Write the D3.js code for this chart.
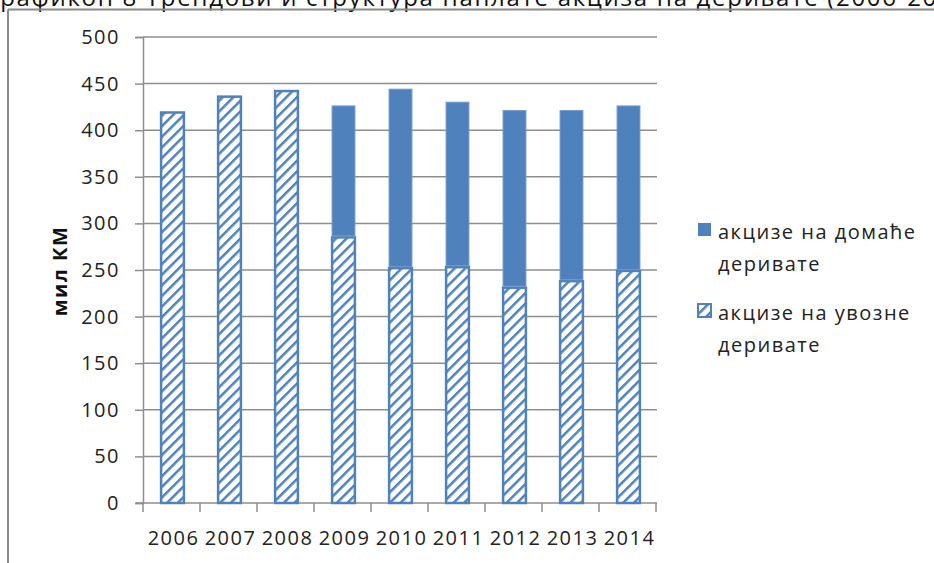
<!DOCTYPE html>
<html>
<head>
<meta charset="utf-8">
<script src="https://cdn.jsdelivr.net/npm/d3@7"></script>
<style>
  body { margin: 0; background: #fff; }
  svg { display: block; font-family: "Open Sans", sans-serif; }
</style>
</head>
<body>
<svg id="chart" width="934" height="563"></svg>
<script>
// values (mil KM)
var years = ["2006", "2007", "2008", "2009", "2010", "2011", "2012", "2013", "2014"];
var uvozne = [419, 436, 442, 285, 252, 253, 231, 238, 249];
var domace = [0, 0, 0, 141, 192, 177, 190, 183, 177];
var yTicks = [0, 50, 100, 150, 200, 250, 300, 350, 400, 450, 500];
var legendLabels = [["акцизе на домаће", "деривате"], ["акцизе на увозне", "деривате"]];

var blue = "#4F81BD";
var grid = "#8e8e8e";

var svg = d3.select("#chart");

// pattern for the imported part
var defs = svg.append("defs");
var pat = defs.append("pattern")
    .attr("id", "hatch")
    .attr("patternUnits", "userSpaceOnUse")
    .attr("width", 7.5)
    .attr("height", 7.5)
    .attr("patternTransform", "rotate(45)");
pat.append("rect").attr("width", 7.5).attr("height", 7.5).attr("fill", "#fff");
pat.append("line")
    .attr("x1", 0).attr("y1", 0).attr("x2", 0).attr("y2", 7.5)
    .attr("stroke", blue).attr("stroke-width", 5);

// title line, cut off at the top like in the source
svg.append("text")
    .attr("x", -14)
    .attr("y", 6)
    .attr("font-size", 24)
    .attr("letter-spacing", 1.7)
    .attr("fill", "#111")
    .text("Графикон 8 Трендови и структура наплате акциза на деривате (2006-2014)");

// frame
svg.append("line").attr("x1", 8).attr("y1", 9.5).attr("x2", 934).attr("y2", 9.5)
    .attr("stroke", "#8a8a8a").attr("stroke-width", 2);
svg.append("line").attr("x1", 8).attr("y1", 9.5).attr("x2", 8).attr("y2", 563)
    .attr("stroke", "#8a8a8a").attr("stroke-width", 2);

var x = d3.scaleBand().domain(years).range([143, 656]).padding(0);
var y = d3.scaleLinear().domain([0, 500]).range([503, 37]);

// gridlines
svg.append("g").selectAll("line")
    .data(yTicks.slice(1))
    .enter()
    .append("line")
    .attr("x1", 143)
    .attr("x2", 657)
    .attr("y1", function(d) { return y(d); })
    .attr("y2", function(d) { return y(d); })
    .attr("stroke", grid)
    .attr("stroke-width", 1.5);

// y axis
var yAxis = svg.append("g")
    .attr("transform", "translate(143,0)")
    .call(d3.axisLeft(y).tickValues(yTicks).tickSize(8).tickPadding(15));
yAxis.select(".domain").attr("stroke", grid).attr("stroke-width", 1.5);
yAxis.selectAll(".tick line").attr("stroke", grid).attr("stroke-width", 1.5);
yAxis.selectAll("text")
    .attr("font-family", "Open Sans")
    .attr("font-size", 20)
    .attr("letter-spacing", 1.5)
    .attr("fill", "#222");

// x axis, ticks sit between the categories
svg.append("line")
    .attr("x1", 136).attr("x2", 657)
    .attr("y1", y(0)).attr("y2", y(0))
    .attr("stroke", grid).attr("stroke-width", 1.5);
var bounds = years.map(function(d) { return x(d); }).concat([x.range()[1]]);
svg.append("g").selectAll("line")
    .data(bounds)
    .enter()
    .append("line")
    .attr("x1", function(d) { return d; })
    .attr("x2", function(d) { return d; })
    .attr("y1", y(0))
    .attr("y2", y(0) + 9)
    .attr("stroke", grid)
    .attr("stroke-width", 1.5);
svg.append("g").selectAll("text")
    .data(years)
    .enter()
    .append("text")
    .attr("x", function(d) { return x(d) + x.bandwidth() / 2 + 2; })
    .attr("y", 545)
    .attr("text-anchor", "middle")
    .attr("font-size", 20)
    .attr("letter-spacing", 1.5)
    .attr("fill", "#222")
    .text(function(d) { return d; });

// y title
svg.append("text")
    .attr("transform", "translate(67,271) rotate(-90)")
    .attr("text-anchor", "middle")
    .attr("font-size", 20)
    .attr("letter-spacing", 1.5)
    .attr("font-weight", "bold")
    .attr("fill", "#111")
    .text("мил КМ");

// stacked bars
var rows = years.map(function(d, i) { return { year: d, uvozne: uvozne[i], domace: domace[i] }; });
var stack = d3.stack().keys(["uvozne", "domace"])(rows);
var barW = x.bandwidth() * 0.4;

svg.append("g").selectAll("rect")
    .data(stack[0])
    .enter()
    .append("rect")
    .attr("x", function(d) { return x(d.data.year) + (x.bandwidth() - barW) / 2 + 1; })
    .attr("y", function(d) { return y(d[1]); })
    .attr("width", barW)
    .attr("height", function(d) { return y(d[0]) - y(d[1]); })
    .attr("fill", "url(#hatch)")
    .attr("stroke", blue)
    .attr("stroke-width", 2.5);

svg.append("g").selectAll("rect")
    .data(stack[1].filter(function(d) { return d[1] > d[0]; }))
    .enter()
    .append("rect")
    .attr("x", function(d) { return x(d.data.year) + (x.bandwidth() - barW) / 2 + 1; })
    .attr("y", function(d) { return y(d[1]); })
    .attr("width", barW)
    .attr("height", function(d) { return y(d[0]) - y(d[1]) - 1.5; })
    .attr("fill", blue)
    .attr("stroke", "#6b95c8")
    .attr("stroke-width", 1);

// legend
var legend = svg.append("g").attr("transform", "translate(697,222)");
var items = legend.selectAll("g")
    .data(legendLabels)
    .enter()
    .append("g")
    .attr("transform", function(d, i) { return "translate(0," + (i * 81) + ")"; });
items.append("rect")
    .attr("x", 1).attr("y", 1)
    .attr("width", 13).attr("height", 13)
    .attr("fill", function(d, i) { return i === 0 ? blue : "url(#hatch)"; })
    .attr("stroke", blue)
    .attr("stroke-width", function(d, i) { return i === 0 ? 0 : 2; });
items.append("text")
    .attr("x", 21)
    .attr("y", 17)
    .attr("font-size", 20)
    .attr("letter-spacing", 1.5)
    .attr("fill", "#222")
    .selectAll("tspan")
    .data(function(d) { return d; })
    .enter()
    .append("tspan")
    .attr("x", 21)
    .attr("dy", function(d, i) { return i === 0 ? 0 : 32; })
    .text(function(d) { return d; });
</script>
</body>
</html>
